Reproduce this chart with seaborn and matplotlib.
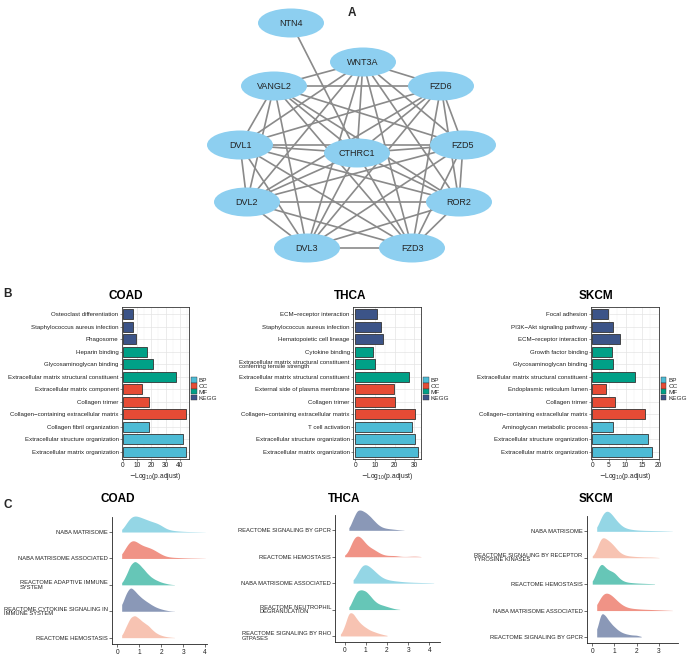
import itertools
import numpy as np
import pandas as pd
import matplotlib
matplotlib.use("Agg")
import matplotlib.pyplot as plt
from matplotlib.patches import Ellipse, Patch
from matplotlib.ticker import MultipleLocator
import seaborn as sns

sns.set_theme(style="white")
plt.rcParams['font.family'] = ['Liberation Sans', 'DejaVu Sans']

# ---------------- data: network (panel A) ----------------
NODES = ["NTN4", "WNT3A", "VANGL2", "FZD6", "DVL1", "CTHRC1", "FZD5",
         "DVL2", "ROR2", "DVL3", "FZD3"]
LAYOUT = {"NTN4": (291, 23), "WNT3A": (363, 62), "VANGL2": (274, 86),
          "FZD6": (441, 86), "DVL1": (240, 145), "CTHRC1": (357, 153),
          "FZD5": (463, 145), "DVL2": (247, 202), "ROR2": (459, 202),
          "DVL3": (307, 248), "FZD3": (412, 248)}
CORE = ["WNT3A", "VANGL2", "FZD6", "DVL1", "CTHRC1", "FZD5", "DVL2",
        "ROR2", "DVL3", "FZD3"]
EDGES = [("NTN4", "CTHRC1")] + list(itertools.combinations(CORE, 2))

# ---------------- data: enrichment bars (panel B) ----------------
B_CATS = ["BP", "CC", "MF", "KEGG"]
B_COLORS = {"BP": "#4DBBD5", "CC": "#E64B35", "MF": "#00A087", "KEGG": "#3C5488"}
B_GROUPS = ["KEGG"] * 3 + ["MF"] * 3 + ["CC"] * 3 + ["BP"] * 3

COAD_TERMS = ["Osteoclast differentiation", "Staphylococcus aureus infection",
              "Phagosome", "Heparin binding", "Glycosaminoglycan binding",
              "Extracellular matrix structural constituent",
              "Extracellular matrix component", "Collagen trimer",
              "Collagen\u2212containing extracellular matrix",
              "Collagen fibril organization",
              "Extracellular structure organization",
              "Extracellular matrix organization"]
COAD_VALUES = [6.8, 7.0, 8.9, 16.7, 21.4, 37.1, 13.6, 18.5, 44.1, 18.3, 42.5, 44.4]

THCA_TERMS = ["ECM\u2212receptor interaction", "Staphylococcus aureus infection",
              "Hematopoietic cell lineage", "Cytokine binding",
              "Extracellular matrix structural constituent\nconferring tensile strength",
              "Extracellular matrix structural constituent",
              "External side of plasma membrane", "Collagen trimer",
              "Collagen\u2212containing extracellular matrix", "T cell activation",
              "Extracellular structure organization",
              "Extracellular matrix organization"]
THCA_VALUES = [11.3, 13.0, 14.0, 9.3, 10.3, 27.1, 19.9, 20.4, 30.5, 29.0, 30.5, 31.7]

SKCM_TERMS = ["Focal adhesion", "PI3K\u2212Akt signaling pathway",
              "ECM\u2212receptor interaction", "Growth factor binding",
              "Glycosaminoglycan binding",
              "Extracellular matrix structural constituent",
              "Endoplasmic reticulum lumen", "Collagen trimer",
              "Collagen\u2212containing extracellular matrix",
              "Aminoglycan metabolic process",
              "Extracellular structure organization",
              "Extracellular matrix organization"]
SKCM_VALUES = [4.6, 6.3, 8.4, 5.8, 6.3, 13.0, 4.2, 6.7, 15.9, 6.3, 16.9, 18.0]

B_XTICKS = {"COAD": [0, 10, 20, 30, 40], "THCA": [0, 10, 20, 30],
            "SKCM": [0, 5, 10, 15, 20]}

# ---------------- data: ridges (panel C) ----------------
R_GRID = [-0.2, 0.0, 0.2, 0.4, 0.6, 0.8, 1.0, 1.2, 1.4, 1.6, 1.8, 2.0,
          2.2, 2.4, 2.6, 2.8, 3.0, 3.2, 3.4, 3.6, 3.8, 4.0, 4.2, 4.4]

COAD_PATHWAYS = ["NABA MATRISOME", "NABA MATRISOME ASSOCIATED",
                 "REACTOME ADAPTIVE IMMUNE\nSYSTEM",
                 "REACTOME CYTOKINE SIGNALING IN\nIMMUNE SYSTEM",
                 "REACTOME HEMOSTASIS"]
COAD_COLORS = ["#4DBBD5", "#E64B35", "#00A087", "#3C5488", "#F39B7F"]
COAD_DENS = [
    [0, 0, 2, 25, 46, 50, 45, 40, 35, 30, 27, 20, 10, 6, 4, 3, 2, 1.5, 1.2, 1, 0.6, 0.2, 0, 0],
    [0, 0, 8, 35, 55, 54, 42, 36, 33, 28, 20, 12, 6, 4, 3, 2.5, 2, 1.5, 1.2, 1, 0.7, 0.2, 0, 0],
    [0, 0, 3, 25, 55, 65, 55, 42, 28, 18, 12, 7, 4, 1.5, 0.5, 0, 0, 0, 0, 0, 0, 0, 0, 0],
    [0, 0, 15, 50, 69, 55, 42, 32, 24, 16, 10, 6, 3, 1, 0.3, 0, 0, 0, 0, 0, 0, 0, 0, 0],
    [0, 0, 3, 30, 55, 60, 50, 40, 33, 20, 11, 6, 3, 1.5, 0.5, 0, 0, 0, 0, 0, 0, 0, 0, 0],
]

THCA_PATHWAYS = ["REACTOME SIGNALING BY GPCR", "REACTOME HEMOSTASIS",
                 "NABA MATRISOME ASSOCIATED",
                 "REACTOME NEUTROPHIL\nDEGRANULATION",
                 "REACTOME SIGNALING BY RHO\nGTPASES"]
THCA_COLORS = ["#3C5488", "#E64B35", "#4DBBD5", "#00A087", "#F39B7F"]
THCA_DENS = [
    [0, 0, 2, 25, 45, 43, 38, 30, 20, 11, 6, 4, 3, 2, 1, 0.3, 0, 0, 0, 0, 0, 0, 0, 0],
    [0, 1, 12, 45, 53, 45, 30, 22, 17, 10, 5, 3, 3, 3, 1, 0.5, 0.8, 1.5, 1.5, 0.3, 0, 0, 0, 0],
    [0, 0, 0, 2, 20, 44, 44, 36, 28, 18, 11, 8, 6, 5, 4, 3, 2.5, 2, 1.7, 1.4, 1.2, 1, 0.5, 0],
    [0, 0, 2, 25, 45, 46, 43, 32, 20, 13, 10, 7, 4, 1.5, 0.3, 0, 0, 0, 0, 0, 0, 0, 0, 0],
    [1, 25, 65, 60, 42, 30, 22, 15, 11, 7, 4, 1.5, 0, 0, 0, 0, 0, 0, 0, 0, 0, 0, 0, 0],
]

SKCM_PATHWAYS = ["NABA MATRISOME",
                 "REACTOME SIGNALING BY RECEPTOR\nTYROSINE KINASES",
                 "REACTOME HEMOSTASIS", "NABA MATRISOME ASSOCIATED",
                 "REACTOME SIGNALING BY GPCR"]
SKCM_COLORS = ["#4DBBD5", "#F39B7F", "#00A087", "#E64B35", "#3C5488"]
SKCM_DENS = [
    [0, 0, 2, 35, 50, 45, 30, 18, 9, 6, 4, 3, 2.5, 2, 2, 1.5, 1.5, 1, 0.8, 0.3, 0, 0, 0, 0],
    [0, 0.5, 20, 58, 50, 42, 30, 15, 8, 5, 4, 3, 2.5, 2, 2, 1.5, 0.5, 0, 0, 0, 0, 0, 0, 0],
    [0, 2, 35, 62, 42, 36, 32, 16, 8, 5, 4, 3, 2.5, 2, 1.5, 1, 0, 0, 0, 0, 0, 0, 0, 0],
    [0, 0, 10, 45, 52, 47, 35, 22, 13, 8, 6, 5, 4, 3.5, 3, 2.5, 2, 1.5, 1, 0.3, 0, 0, 0, 0],
    [0, 0, 15, 68, 55, 38, 26, 16, 10, 7, 5, 5, 1, 0, 0, 0, 0, 0, 0, 0, 0, 0, 0, 0],
]

R_XTICKS = {"COAD": [0, 1, 2, 3, 4], "THCA": [0, 1, 2, 3, 4], "SKCM": [0, 1, 2, 3]}

# ---------------- figure ----------------
W, H = 689, 656
fig = plt.figure(figsize=(W / 100, H / 100), dpi=100)


def rect(x0, y0, x1, y1):
    return [x0 / W, 1 - y1 / H, (x1 - x0) / W, (y1 - y0) / H]


TXT = "#222222"

# ---------- Panel A: network ----------
axn = fig.add_axes([0, 1 - 275 / H, 1, 275 / H])
axn.set_xlim(0, W)
axn.set_ylim(275, 0)
axn.axis("off")
for a, b in EDGES:
    (x1, y1), (x2, y2) = LAYOUT[a], LAYOUT[b]
    axn.plot([x1, x2], [y1, y2], color="#8A8A8A", lw=1.2, zorder=1,
             solid_capstyle="butt")
for n in NODES:
    x, y = LAYOUT[n]
    axn.add_patch(Ellipse((x, y), 66, 29, facecolor="#8DCFF0",
                          edgecolor="none", zorder=2))
    axn.text(x, y + 0.5, n, ha="center", va="center", fontsize=6.5,
             color=TXT, zorder=3)

# ---------- Panel B: bar charts ----------
b_specs = [
    ("COAD", COAD_TERMS, COAD_VALUES, (122, 307, 189, 459), (-0.7, 46.5), 5, 126),
    ("THCA", THCA_TERMS, THCA_VALUES, (353.3, 307, 421, 459), (-0.9, 33.3), 5, 350),
    ("SKCM", SKCM_TERMS, SKCM_VALUES, (591, 307, 658.7, 459), (-0.4, 20.0), 2.5, 595.5),
]
for name, terms, vals, box, xl, minor, tx in b_specs:
    ax = fig.add_axes(rect(*box))
    df = pd.DataFrame({"term": terms, "value": vals, "cat": B_GROUPS})
    ax.set_axisbelow(True)
    sns.barplot(data=df, x="value", y="term", hue="cat", order=terms,
                hue_order=B_CATS, palette=B_COLORS, dodge=False, width=0.8,
                saturation=1, edgecolor="#333333", linewidth=0.6,
                legend=False, ax=ax)
    ax.set_xlim(*xl)
    ax.set_ylim(11.6, -0.6)
    ax.set_xticks(B_XTICKS[name])
    ax.xaxis.set_minor_locator(MultipleLocator(minor))
    ax.grid(True, which="major", color="#E4E4E4", lw=0.5)
    ax.grid(True, which="minor", axis="x", color="#EFEFEF", lw=0.35)
    ax.set_ylabel("")
    ax.set_xlabel("$-$Log$_{10}$(p.adjust)", fontsize=4.8, color=TXT, labelpad=1)
    ax.tick_params(axis="y", labelsize=4.4, length=1.5, width=0.4, pad=1,
                   colors="#333333", labelcolor=TXT, left=True)
    ax.tick_params(axis="x", labelsize=4.8, length=1.5, width=0.4, pad=1,
                   colors="#333333", labelcolor=TXT, bottom=True)
    for lab in ax.get_yticklabels():
        lab.set_multialignment("left")
        lab.set_linespacing(0.8)
    for s in ax.spines.values():
        s.set_visible(True)
        s.set_color("#333333")
        s.set_linewidth(0.6)
    handles = [Patch(facecolor=B_COLORS[c], edgecolor="#333333", linewidth=0.3,
                     label=c) for c in B_CATS]
    ax.legend(handles=handles, loc="center left", bbox_to_anchor=(1.03, 0.46),
              frameon=False, fontsize=4.6, handlelength=0.9, handleheight=0.9,
              handletextpad=0.3, labelspacing=0.0, borderpad=0, borderaxespad=0)
    fig.text(tx / W, 1 - 296 / H, name, ha="center", va="center",
             fontsize=8.5, fontweight="bold", color="black")

# ---------- Panel C: ridge plots ----------
c_specs = [
    ("COAD", COAD_PATHWAYS, COAD_COLORS, COAD_DENS, (112, 516.7, 207, 644), (-0.24, 4.08), 117.5),
    ("THCA", THCA_PATHWAYS, THCA_COLORS, THCA_DENS, (335.3, 515, 440, 642.3), (-0.44, 4.5), 344.5),
    ("SKCM", SKCM_PATHWAYS, SKCM_COLORS, SKCM_DENS, (586.7, 516, 678.3, 643.3), (-0.25, 3.87), 596),
]
Y_TOP, Y_BOT = -0.58, 4.24
for name, paths, cols, dens, box, xl, tx in c_specs:
    bg = fig.add_axes(rect(*box))
    bg.set_xlim(*xl)
    bg.set_ylim(Y_BOT, Y_TOP)
    bg.set_xticks(R_XTICKS[name])
    bg.set_yticks(range(len(paths)))
    bg.set_yticklabels(paths)
    bg.tick_params(axis="y", labelsize=4.15, length=2, width=0.5, pad=1,
                   colors="#333333", labelcolor=TXT, left=True)
    bg.tick_params(axis="x", labelsize=4.8, length=2, width=0.5, pad=1.5,
                   colors="#333333", labelcolor=TXT, bottom=True)
    for lab in bg.get_yticklabels():
        lab.set_multialignment("left")
        lab.set_linespacing(0.8)
    for s in ["top", "right"]:
        bg.spines[s].set_visible(False)
    for s in ["left", "bottom"]:
        bg.spines[s].set_color("#222222")
        bg.spines[s].set_linewidth(0.6)
    bg.set_facecolor("none")

    inv = fig.transFigure.inverted()
    ridge_axes = []
    peak = 0
    for i, (p, c, d) in enumerate(zip(paths, cols, dens)):
        _, yb = inv.transform(bg.transData.transform((xl[0], i)))
        _, yt = inv.transform(bg.transData.transform((xl[0], i - 1)))
        pos = bg.get_position()
        ra = fig.add_axes([pos.x0, yb, pos.width, yt - yb], zorder=2 + i)
        rdf = pd.DataFrame({"x": R_GRID, "w": d})
        rdf = rdf[rdf["w"] > 0]
        sns.kdeplot(data=rdf, x="x", weights="w", fill=True, cut=0,
                    bw_method=0.25, color=c, alpha=0.6, linewidth=0, ax=ra)
        verts = ra.collections[0].get_paths()[0].vertices
        peak = max(peak, verts[:, 1].max())
        ridge_axes.append(ra)
    for ra in ridge_axes:
        ra.set_xlim(*xl)
        ra.set_ylim(0, peak / 0.88)
        ra.axis("off")
        ra.patch.set_alpha(0)
    fig.text(tx / W, 1 - 499 / H, name, ha="center", va="center",
             fontsize=8.5, fontweight="bold", color="black")

# panel letters
fig.text(352 / W, 1 - 13 / H, "A", ha="center", va="center", fontsize=8.5, fontweight="bold")
fig.text(7 / W, 1 - 294 / H, "B", ha="center", va="center", fontsize=8.5, fontweight="bold")
fig.text(8 / W, 1 - 504.5 / H, "C", ha="center", va="center", fontsize=8.5, fontweight="bold")

fig.savefig("out.png", dpi=100)
